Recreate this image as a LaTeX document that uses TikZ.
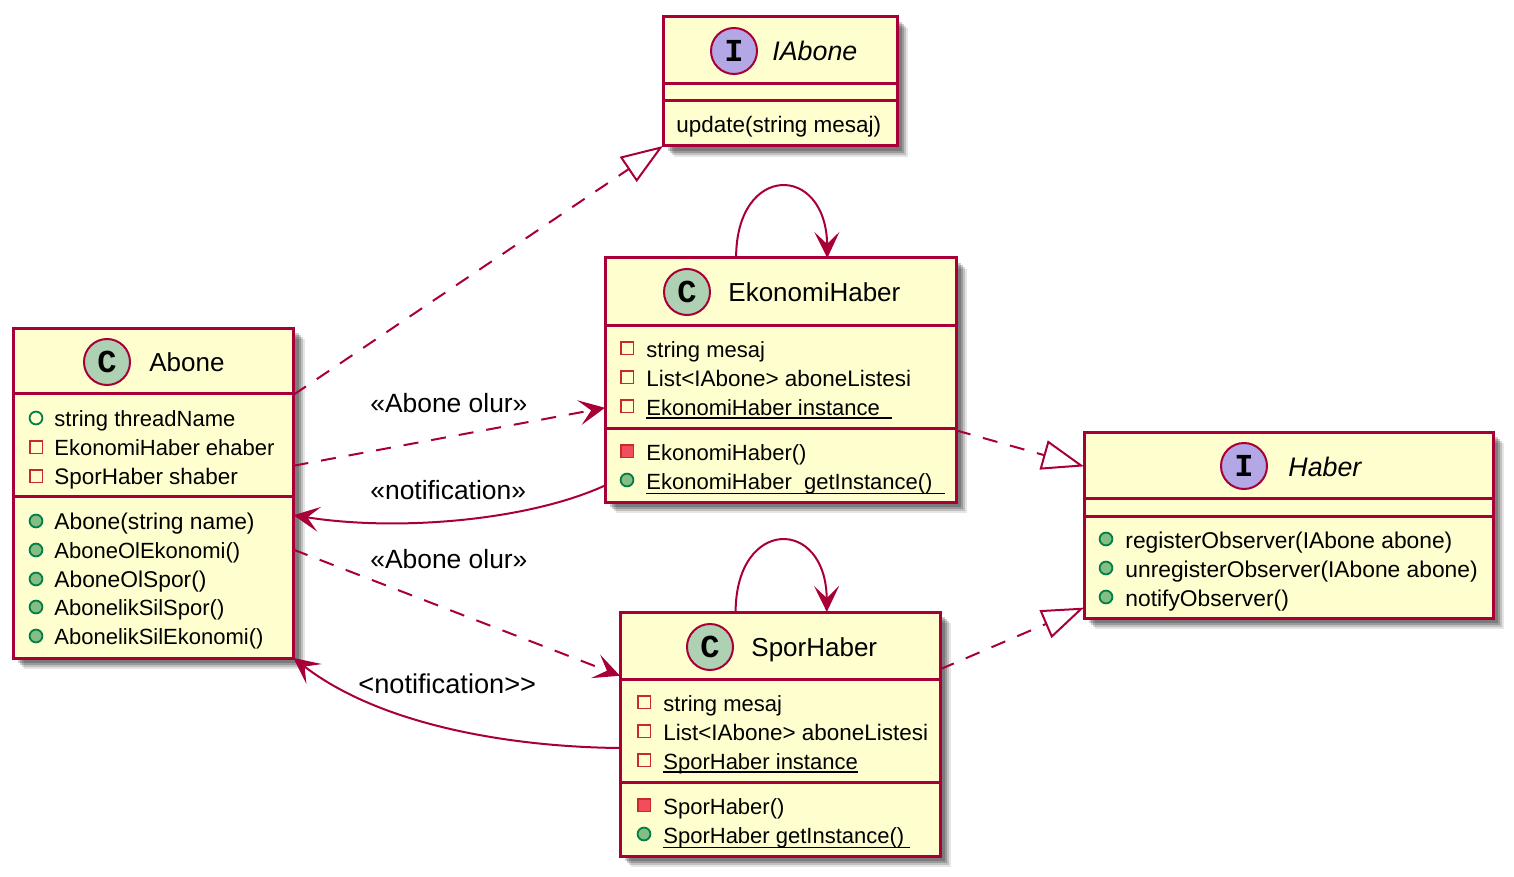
\documentclass[tikz,border=0pt]{standalone}
\usepackage{fontspec}
\usepackage{xcolor}
\usetikzlibrary{arrows.meta,shadows}
\setmainfont{Liberation Sans}
\newfontfamily\badgefont{Liberation Mono}
\definecolor{umlline}{HTML}{A80036}
\definecolor{umlfill}{HTML}{FEFECE}
\definecolor{umlclass}{HTML}{ADD1B2}
\definecolor{umliface}{HTML}{B4A7E5}
\definecolor{privline}{HTML}{C82930}
\definecolor{privfill}{HTML}{F24D5C}
\definecolor{publine}{HTML}{038048}
\definecolor{pubfill}{HTML}{84BE84}
\newcommand{\ulined}[2][1.2pt]{\vtop{\hbox{\raisebox{0pt}[\height][0pt]{#2}}\kern#1\hrule height .7pt}}
\begin{document}
\begin{tikzpicture}[x=.5pt,y=-.5pt,
                    classbox/.style={draw=umlline,fill=umlfill,line width=1.5pt,outer sep=0pt,
                        inner sep=0pt,
                        drop shadow={shadow xshift=2.5pt,shadow yshift=-2.5pt,fill=black,opacity=.2},
                        drop shadow={shadow xshift=3.5pt,shadow yshift=-3.5pt,fill=black,opacity=.2},
                        drop shadow={shadow xshift=4.5pt,shadow yshift=-4.5pt,fill=black,opacity=.16},
                        drop shadow={shadow xshift=5.5pt,shadow yshift=-5.5pt,fill=black,opacity=.1}},
                    divider/.style={draw=umlline,line width=1.5pt},
                    badge/.style={circle,draw=umlline,line width=1pt,minimum size=23pt,inner sep=0pt,
                        font=\badgefont\bfseries\fontsize{16}{16}\selectfont},
                    title/.style={anchor=base west,inner sep=0pt,font=\fontsize{13}{15}\selectfont},
                    member/.style={anchor=base west,inner sep=0pt,font=\fontsize{11}{13}\selectfont},
                    widemember/.style={member,font=\fontsize{11.4}{13}\selectfont},
                    midmember/.style={member,font=\fontsize{11.23}{13}\selectfont},
                    edgelabel/.style={anchor=base west,inner sep=0pt,font=\fontsize{13.2}{15}\selectfont},
                    privfield/.style={rectangle,draw=privline,line width=.9pt,minimum size=6.4pt,inner sep=0pt},
                    privmethod/.style={privfield,fill=privfill},
                    pubfield/.style={circle,draw=publine,line width=.9pt,minimum size=6.4pt,inner sep=0pt},
                    pubmethod/.style={pubfield,fill=pubfill},
                    link/.style={draw=umlline,line width=1pt},
                    dep/.style={link,dash pattern=on 7.5pt off 6.5pt},
                    arrowed/.style={-{Stealth[length=13pt,width=12.5pt,inset=6pt]},fill=none},
                    realize/.style={dep,-{Triangle[open,length=21pt,width=15pt]}}]
    \useasboundingbox (0,0) rectangle (1514,877);

    \node[classbox,minimum width=140.25pt,minimum height=165pt] (abone) at (153.25,493) {};
    \draw[divider] (abone.west |- 0,393) -- (abone.east |- 0,393);
    \draw[divider] (abone.west |- 0,496) -- (abone.east |- 0,496);
    \node[badge,fill=umlclass] (aboneBadge) at (107,362) {C};
    \node[title] (aboneTitle) at (149,371) {Abone};
    \node[pubfield] (aboneIconA) at (36,418) {};
    \node[member] (aboneTextA) at (54,426) {string threadName};
    \node[privfield] (aboneIconB) at (36,447) {};
    \node[member] (aboneTextB) at (54,455) {EkonomiHaber ehaber};
    \node[privfield] (aboneIconC) at (36,476) {};
    \node[midmember] (aboneTextC) at (54,484) {SporHaber shaber};
    \node[pubmethod] (aboneIconD) at (36,521) {};
    \node[widemember] (aboneTextD) at (54,529) {Abone(string name)};
    \node[pubmethod] (aboneIconE) at (36,550) {};
    \node[member] (aboneTextE) at (54,558) {AboneOlEkonomi()};
    \node[pubmethod] (aboneIconF) at (36,579) {};
    \node[widemember] (aboneTextF) at (54,587) {AboneOlSpor()};
    \node[pubmethod] (aboneIconG) at (36,607) {};
    \node[member] (aboneTextG) at (54,615) {AbonelikSilSpor()};
    \node[pubmethod] (aboneIconH) at (36,636) {};
    \node[member] (aboneTextH) at (54,644) {AbonelikSilEkonomi()};

    \node[classbox,minimum width=117pt,minimum height=64.5pt] (iabone) at (780,81.5) {};
    \draw[divider] (iabone.west |- 0,84) -- (iabone.east |- 0,84);
    \draw[divider] (iabone.west |- 0,101) -- (iabone.east |- 0,101);
    \node[badge,fill=umliface] (iaboneBadge) at (734,51) {I};
    \node[title,font=\itshape\fontsize{13.4}{15}\selectfont] (iaboneTitle) at (772,61) {IAbone};
    \node[midmember] (iaboneText) at (676,133) {update(string mesaj)};

    \node[classbox,minimum width=175.5pt,minimum height=122pt] (ekonomi) at (780.5,380) {};
    \draw[divider] (ekonomi.west |- 0,325) -- (ekonomi.east |- 0,325);
    \draw[divider] (ekonomi.west |- 0,428) -- (ekonomi.east |- 0,428);
    \node[badge,fill=umlclass] (ekonomiBadge) at (687,292) {C};
    \node[title] (ekonomiTitle) at (728,301) {EkonomiHaber};
    \node[privfield] (ekonomiIconA) at (627,348) {};
    \node[member] (ekonomiTextA) at (646,357) {string mesaj};
    \node[privfield] (ekonomiIconB) at (627,377) {};
    \node[midmember] (ekonomiTextB) at (646,386) {List<IAbone> aboneListesi};
    \node[privfield] (ekonomiIconC) at (627,406) {};
    \node[member] (ekonomiTextC) at (646,415) {\ulined{EkonomiHaber instance\ \ }};
    \node[privmethod] (ekonomiIconD) at (627,451) {};
    \node[member] (ekonomiTextD) at (646,460) {EkonomiHaber()};
    \node[pubmethod] (ekonomiIconE) at (627,480) {};
    \node[member] (ekonomiTextE) at (646,489) {\ulined[2pt]{EkonomiHaber\ \ getInstance()\ \ }};

    \node[classbox,minimum width=160pt,minimum height=122pt] (spor) at (780,734) {};
    \draw[divider] (spor.west |- 0,679) -- (spor.east |- 0,679);
    \draw[divider] (spor.west |- 0,782) -- (spor.east |- 0,782);
    \node[badge,fill=umlclass] (sporBadge) at (710,647) {C};
    \node[title] (sporTitle) at (751,656) {SporHaber};
    \node[privfield] (sporIconA) at (644,702) {};
    \node[member] (sporTextA) at (663,711) {string mesaj};
    \node[privfield] (sporIconB) at (644,731) {};
    \node[midmember] (sporTextB) at (663,740) {List<IAbone> aboneListesi};
    \node[privfield] (sporIconC) at (644,760) {};
    \node[member] (sporTextC) at (663,769) {\ulined{SporHaber instance}};
    \node[privmethod] (sporIconD) at (644,805) {};
    \node[member] (sporTextD) at (663,814) {SporHaber()};
    \node[pubmethod] (sporIconE) at (644,834) {};
    \node[member] (sporTextE) at (663,843) {\ulined[2pt]{SporHaber getInstance()\ }};

    \node[classbox,minimum width=204.5pt,minimum height=93pt] (haber) at (1288.5,525) {};
    \draw[divider] (haber.west |- 0,498) -- (haber.east |- 0,498);
    \draw[divider] (haber.west |- 0,516) -- (haber.east |- 0,516);
    \node[badge,fill=umliface] (haberBadge) at (1244,466) {I};
    \node[title,font=\itshape\fontsize{13.4}{15}\selectfont] (haberTitle) at (1288,476) {Haber};
    \node[pubmethod] (haberIconA) at (1106,539) {};
    \node[widemember] (haberTextA) at (1125,548) {registerObserver(IAbone abone)};
    \node[pubmethod] (haberIconB) at (1106,568) {};
    \node[widemember] (haberTextB) at (1125,577) {unregisterObserver(IAbone abone)};
    \node[pubmethod] (haberIconC) at (1106,597) {};
    \node[widemember] (haberTextC) at (1125,606) {notifyObserver()};

    \draw[realize] (abone.35.2) -- (iabone.south west);
    \draw[dep,arrowed] (abone.11.3) -- (ekonomi.189);
    \draw[link,arrowed] (ekonomi.211.5) .. controls (530,520) and (400,532) .. (abone.-9.7);
    \draw[dep,arrowed] (abone.-22.8) -- (spor.160.7);
    \draw[link,arrowed] (spor.185.4) .. controls (510,747) and (380,725) .. (abone.south east);
    \draw[link,arrowed] (ekonomi.110) .. controls (736,163) and (826,163) .. (ekonomi.69.5);
    \draw[link,arrowed] (spor.110.2) .. controls (736,517) and (826,517) .. (spor.69.3);
    \draw[realize] (ekonomi.-16.1) -- (haber.164.2);
    \draw[realize] (spor.22.7) -- (haber.202.5);

    \node[edgelabel] (labelEkonomi) at (370,412) {«Abone olur»};
    \node[edgelabel] (labelNotifyE) at (370,499) {«notification»};
    \node[edgelabel] (labelSpor) at (370,568) {«Abone olur»};
    \node[edgelabel,font=\fontsize{13.6}{15}\selectfont] (labelNotifyS) at (358,693) {<notification>{}>};
\end{tikzpicture}
\end{document}
